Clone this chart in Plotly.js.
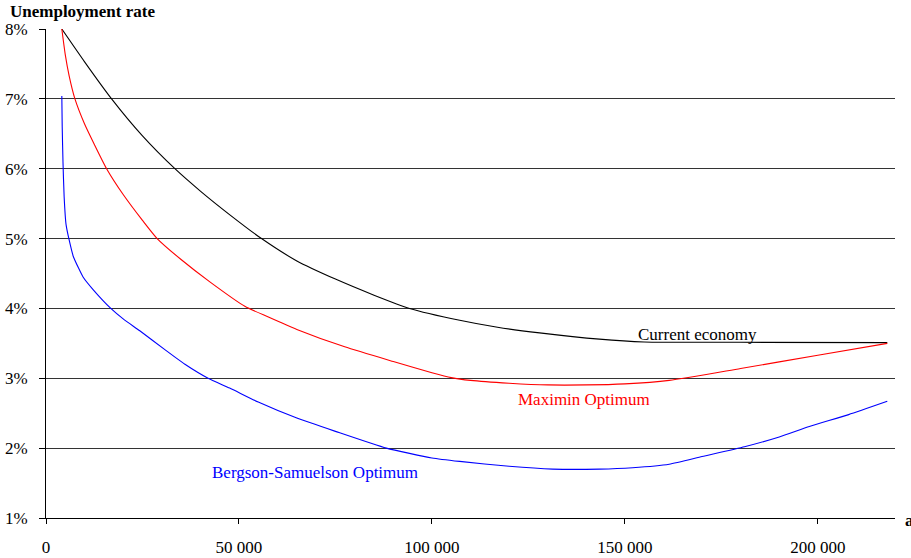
<!DOCTYPE html>
<html>
<head>
<meta charset="utf-8">
<script src="https://cdn.plot.ly/plotly-3.0.1.min.js"></script>
<style>html,body{margin:0;padding:0;background:#fff;}#chart{width:911px;height:558px;}</style>
</head>
<body>
<div id="chart"></div>
<script>
// Income level (x) and unemployment rate in % (y)
const currentX = [4100, 10000, 17000, 25000, 33400, 40000, 47640, 55840, 65000, 75000, 85000, 94200, 107200, 117000, 127900, 143400, 155000, 180000, 218000];
const currentY = [8.0, 7.53, 7.0, 6.47, 6.0, 5.68, 5.34, 5.0, 4.68, 4.42, 4.19, 4.0, 3.83, 3.73, 3.65, 3.56, 3.52, 3.515, 3.51];

const maximinX = [4100, 5000, 6000, 7500, 10000, 12500, 15700, 20000, 25000, 28800, 35000, 42460, 51520, 57480, 65000, 77400, 90000, 100000, 105000, 110000, 120000, 130000, 140000, 150000, 161500, 180000, 200000, 218000];
const maximinY = [8.0, 7.63, 7.33, 7.0, 6.64, 6.35, 6.0, 5.63, 5.26, 5.0, 4.7, 4.38, 4.03, 3.88, 3.7, 3.45, 3.24, 3.08, 3.01, 2.97, 2.93, 2.905, 2.905, 2.92, 2.97, 3.14, 3.33, 3.5];

const bergsonX = [4100, 4200, 4400, 4700, 5200, 6000, 7100, 8500, 9600, 12200, 16800, 20000, 24300, 30800, 36000, 42000, 47600, 55000, 65000, 75000, 88200, 100000, 107200, 120000, 131300, 143400, 152000, 161500, 170000, 181000, 190000, 197800, 208000, 218000];
const bergsonY = [7.04, 6.6, 6.1, 5.6, 5.2, 4.98, 4.74, 4.57, 4.45, 4.27, 4.0, 3.85, 3.68, 3.41, 3.2, 3.0, 2.86, 2.66, 2.43, 2.24, 2.0, 1.86, 1.81, 1.74, 1.7, 1.7, 1.72, 1.77, 1.88, 2.02, 2.16, 2.31, 2.48, 2.67];

const xTickVals = [0, 50000, 100000, 150000, 200000];
const xTickText = ["0", "50 000", "100 000", "150 000", "200 000"];
const yTickVals = [1, 2, 3, 4, 5, 6, 7, 8];
const yTickText = ["1%", "2%", "3%", "4%", "5%", "6%", "7%", "8%"];

const seriesNames = ["Current economy", "Maximin Optimum", "Bergson-Samuelson Optimum"];

const FF = "Liberation Serif";
const FS = 17;

const traces = [
  {x: currentX, y: currentY, name: seriesNames[0], mode: "lines", line: {color: "#000000", width: 1.1, shape: "spline", smoothing: 0.6}},
  {x: maximinX, y: maximinY, name: seriesNames[1], mode: "lines", line: {color: "#ff0000", width: 1.1, shape: "spline", smoothing: 0.6}},
  {x: bergsonX, y: bergsonY, name: seriesNames[2], mode: "lines", line: {color: "#0000ff", width: 1.1, shape: "spline", smoothing: 0.5}}
];

const layout = {
  width: 911, height: 558,
  margin: {l: 46, r: 16, t: 29, b: 40, pad: 0},
  paper_bgcolor: "#ffffff", plot_bgcolor: "#ffffff",
  showlegend: false,
  font: {family: FF, size: FS, color: "#000000"},
  title: {text: "<b>Unemployment rate</b>", font: {family: FF, size: FS, color: "#000000"},
          xref: "container", yref: "container", x: 10/911, xanchor: "left", y: 1 - 11/558, yanchor: "middle"},
  xaxis: {range: [0, 220000], tickmode: "array", tickvals: xTickVals, ticktext: xTickText, ticks: "outside", ticklen: 5, tickcolor: "#000000",
          showline: true, linecolor: "#000000", linewidth: 1, showgrid: false, zeroline: false,
          tickfont: {family: FF, size: FS, color: "#000000"}, ticklabelstandoff: 9},
  yaxis: {range: [1, 8], tickmode: "array", tickvals: yTickVals, ticktext: yTickText, ticks: "outside", ticklen: 6, tickcolor: "#000000",
          showline: true, linecolor: "#000000", linewidth: 1, showgrid: true, gridcolor: "#333333", gridwidth: 1, zeroline: false,
          tickfont: {family: FF, size: FS, color: "#000000"}, ticklabelstandoff: 8},
  annotations: [
    {text: seriesNames[0], x: 153000, y: 3.62, xref: "x", yref: "y", xanchor: "left", yanchor: "middle", showarrow: false,
     font: {family: FF, size: FS, color: "#000000"}},
    {text: seriesNames[1], x: 139500, y: 2.69, xref: "x", yref: "y", xanchor: "center", yanchor: "middle", showarrow: false,
     font: {family: FF, size: FS, color: "#ff0000"}},
    {text: seriesNames[2], x: 69800, y: 1.65, xref: "x", yref: "y", xanchor: "center", yanchor: "middle", showarrow: false,
     font: {family: FF, size: FS, color: "#0000ff"}},
    {text: "<b>a</b>", x: (903 - 46) / 849, y: (518 - 520) / 489, xref: "paper", yref: "paper", showarrow: false, xanchor: "left", yanchor: "middle",
     font: {family: FF, size: FS, color: "#000000"}}
  ]
};

Plotly.newPlot("chart", traces, layout, {displayModeBar: false, staticPlot: true});
</script>
</body>
</html>
